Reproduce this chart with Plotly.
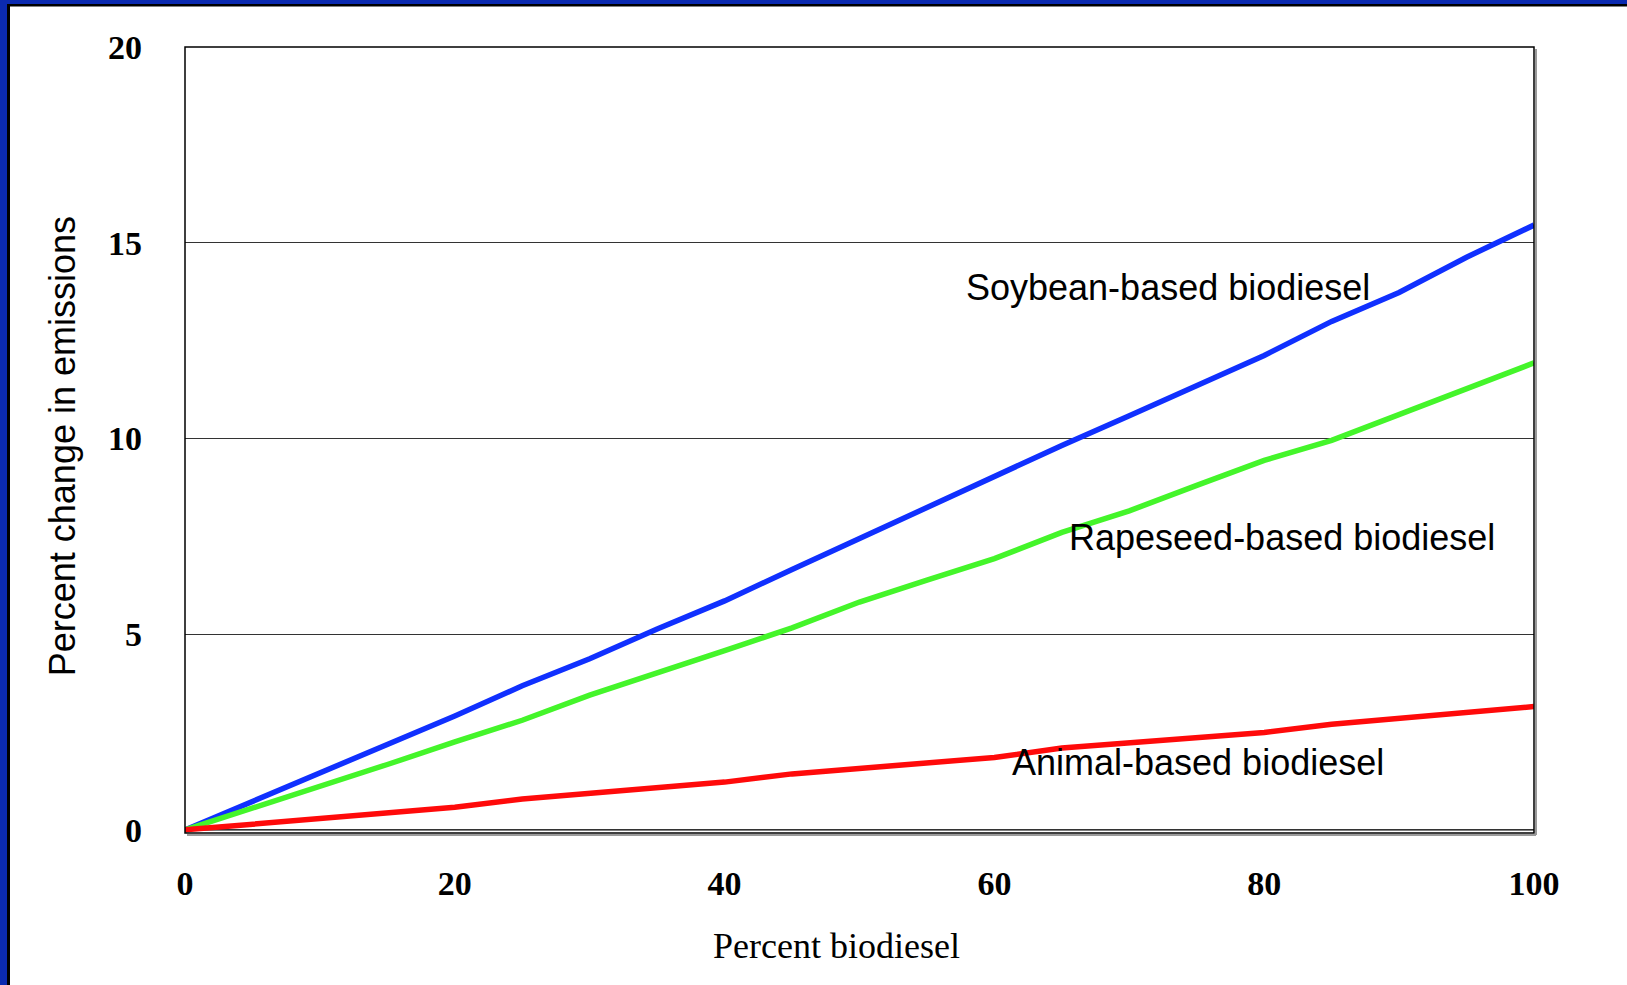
import plotly.graph_objects as go

pct_biodiesel = [0, 5, 10, 15, 20, 25, 30, 35, 40, 45, 50, 55, 60, 65, 70, 75, 80, 85, 90, 95, 100]
soybean = [0, 0.72, 1.44, 2.16, 2.91, 3.68, 4.37, 5.13, 5.85, 6.65, 7.45, 8.25, 9.05, 9.82, 10.58, 11.35, 12.12, 12.99, 13.73, 14.63, 15.45]
rapeseed = [0, 0.55, 1.10, 1.67, 2.25, 2.80, 3.44, 4.00, 4.58, 5.16, 5.82, 6.38, 6.93, 7.60, 8.15, 8.80, 9.44, 9.95, 10.60, 11.27, 11.93]
animal = [0, 0.15, 0.30, 0.44, 0.58, 0.79, 0.93, 1.07, 1.22, 1.43, 1.57, 1.71, 1.85, 2.09, 2.22, 2.36, 2.49, 2.70, 2.86, 3.00, 3.15]

series_names = ["Soybean-based biodiesel", "Rapeseed-based biodiesel", "Animal-based biodiesel"]
series_colors = ["#1030ff", "#44f52a", "#ff0a0a"]
label_pos = [(72.9, 13.86), (81.3, 7.46), (75.1, 1.72)]

W, H = 1627, 985
L, R, T, B = 185, 1534, 46.5, 833

def px(x):
    return (x - L) / (R - L)

def py(y):
    return (B - y) / (B - T)

fig = go.Figure()
for ys, name, col in zip([soybean, rapeseed, animal], series_names, series_colors):
    fig.add_trace(go.Scatter(x=pct_biodiesel, y=ys, mode="lines", name=name,
                             line=dict(color=col, width=5.5), showlegend=False))

shapes = [
    dict(type="rect", xref="paper", yref="paper", x0=px(7), x1=px(1640), y0=py(3.5), y1=py(1000),
         fillcolor="black", line=dict(width=0), layer="below"),
    dict(type="rect", xref="paper", yref="paper", x0=px(10), x1=px(1640), y0=py(6), y1=py(1000),
         fillcolor="white", line=dict(width=0), layer="below"),
    dict(type="line", xref="paper", yref="paper", x0=px(R + 2), x1=px(R + 2), y0=py(T + 2), y1=py(B + 2),
         line=dict(color="#9a9a9a", width=2)),
    dict(type="line", xref="paper", yref="paper", x0=px(L + 2), x1=px(R + 2), y0=py(B + 2), y1=py(B + 2),
         line=dict(color="#9a9a9a", width=2)),
    dict(type="rect", xref="paper", yref="paper", x0=0, x1=1, y0=0, y1=1,
         line=dict(color="black", width=1.5)),
    dict(type="line", xref="paper", yref="y", x0=0, x1=1, y0=0, y1=0,
         line=dict(color="black", width=1.5), layer="below"),
]

annotations = []
for (lx, ly), name in zip(label_pos, series_names):
    annotations.append(dict(x=lx, y=ly, xref="x", yref="y", text=name, showarrow=False,
                            xanchor="center", yanchor="middle",
                            font=dict(family="Liberation Sans, Arial", size=36, color="black")))
annotations.append(dict(x=px(836), y=py(946), xref="paper", yref="paper", text="Percent biodiesel",
                        showarrow=False, xanchor="center", yanchor="middle",
                        font=dict(family="Liberation Serif, Times New Roman", size=36, color="black")))
annotations.append(dict(x=px(62), y=py(446), xref="paper", yref="paper", text="Percent change in emissions",
                        textangle=-90, showarrow=False, xanchor="center", yanchor="middle",
                        font=dict(family="Liberation Sans, Arial", size=36, color="black")))

tick_font = dict(family="Liberation Serif, Times New Roman", size=34, color="black", weight="bold")

fig.update_layout(
    width=W, height=H,
    margin=dict(l=L, r=W - R, t=T, b=H - B, autoexpand=False),
    paper_bgcolor="#0b2ab0",
    plot_bgcolor="white",
    shapes=shapes,
    annotations=annotations,
    xaxis=dict(range=[0, 100], tickvals=[0, 20, 40, 60, 80, 100], showgrid=False, zeroline=False,
               showline=False, ticks="", ticklabelstandoff=27, tickfont=tick_font),
    yaxis=dict(range=[-0.08, 20], tickvals=[0, 5, 10, 15, 20], showgrid=True, gridcolor="#333333",
               gridwidth=1, zeroline=False, showline=False, ticks="", ticklabelstandoff=42,
               tickfont=tick_font),
)

fig.write_html("out.html")
